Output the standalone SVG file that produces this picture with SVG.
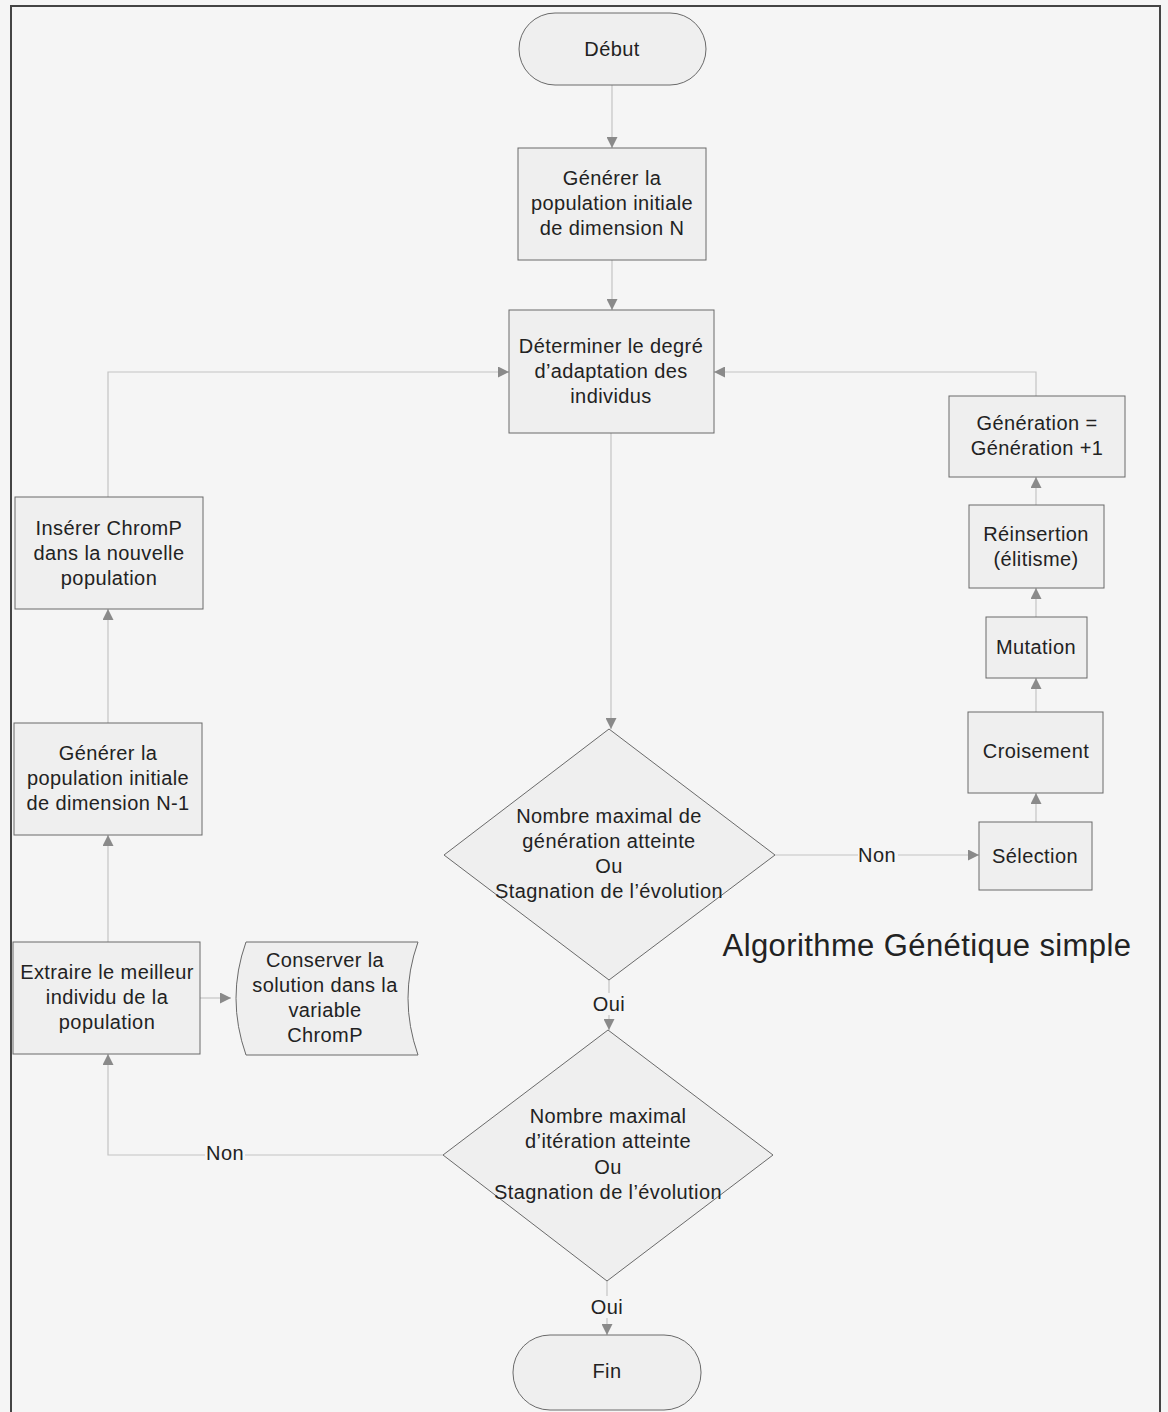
<svg xmlns="http://www.w3.org/2000/svg" width="1168" height="1412" viewBox="0 0 1168 1412">
<defs>
<style>
.n{fill:#efefef;stroke:#6a6a6a;stroke-width:1}
.t{font-family:"Liberation Sans",Arial,sans-serif;font-size:20px;letter-spacing:0.4px;fill:#222;text-anchor:middle}
.c{fill:none;stroke:#c4c4c4;stroke-width:1.2}
.l{font-family:"Liberation Sans",Arial,sans-serif;font-size:20px;letter-spacing:0.4px;fill:#222;text-anchor:middle}
</style>
<marker id="a" viewBox="0 0 10 10" refX="10" refY="5" markerWidth="11" markerHeight="11" markerUnits="userSpaceOnUse" orient="auto">
<path d="M0,0 L10,5 L0,10 Z" fill="#8a8a8a"/>
</marker>
</defs>
<rect x="0" y="0" width="1168" height="1412" fill="#f5f5f5"/>
<path d="M11,1412 V6 H1160 V1412" fill="none" stroke="#444" stroke-width="2"/>

<g id="connectors">
<path class="c" d="M612,85 V148" marker-end="url(#a)"/>
<path class="c" d="M612,260 V310" marker-end="url(#a)"/>
<path class="c" d="M611,433 V729" marker-end="url(#a)"/>
<path class="c" d="M775,855 H979" marker-end="url(#a)"/>
<path class="c" d="M1036,822 V793" marker-end="url(#a)"/>
<path class="c" d="M1036,712 V678" marker-end="url(#a)"/>
<path class="c" d="M1036,617 V588" marker-end="url(#a)"/>
<path class="c" d="M1036,505 V477" marker-end="url(#a)"/>
<path class="c" d="M1036,396 V372 H714" marker-end="url(#a)"/>
<path class="c" d="M609,980 V1030" marker-end="url(#a)"/>
<path class="c" d="M607,1280 V1335" marker-end="url(#a)"/>
<path class="c" d="M443,1155 H108 V1054" marker-end="url(#a)"/>
<path class="c" d="M200,998 H231" marker-end="url(#a)"/>
<path class="c" d="M108,942 V835" marker-end="url(#a)"/>
<path class="c" d="M108,723 V609" marker-end="url(#a)"/>
<path class="c" d="M108,497 V372 H509" marker-end="url(#a)"/>
<rect x="858" y="845" width="40" height="22" fill="#f5f5f5"/>
<text class="l" x="877" y="862">Non</text>
<rect x="590" y="993" width="38" height="22" fill="#f5f5f5"/>
<text class="l" x="609" y="1011">Oui</text>
<rect x="588" y="1296" width="38" height="22" fill="#f5f5f5"/>
<text class="l" x="607" y="1314">Oui</text>
<rect x="205" y="1143" width="40" height="22" fill="#f5f5f5"/>
<text class="l" x="225" y="1160">Non</text>
</g>

<g id="debut">
<rect class="n" x="519" y="13" width="187" height="72" rx="36" ry="36"/>
<text class="t" x="612" y="56">Début</text>
</g>
<g id="generer-n">
<rect class="n" x="518" y="148" width="188" height="112"/>
<text class="t" x="612" y="185">Générer la</text>
<text class="t" x="612" y="210">population initiale</text>
<text class="t" x="612" y="235">de dimension N</text>
</g>
<g id="determiner">
<rect class="n" x="509" y="310" width="205" height="123"/>
<text class="t" x="611" y="353">Déterminer le degré</text>
<text class="t" x="611" y="378">d’adaptation des</text>
<text class="t" x="611" y="403">individus</text>
</g>
<g id="decision-generation">
<polygon class="n" points="609,729 775,855 609,980 444,855"/>
<text class="t" x="609" y="823">Nombre maximal de</text>
<text class="t" x="609" y="848">génération atteinte</text>
<text class="t" x="609" y="873">Ou</text>
<text class="t" x="609" y="898">Stagnation de l’évolution</text>
</g>
<g id="decision-iteration">
<polygon class="n" points="608,1030 773,1155 607,1281 443,1155"/>
<text class="t" x="608" y="1123">Nombre maximal</text>
<text class="t" x="608" y="1148">d’itération atteinte</text>
<text class="t" x="608" y="1174">Ou</text>
<text class="t" x="608" y="1199">Stagnation de l’évolution</text>
</g>
<g id="fin">
<rect class="n" x="513" y="1335" width="188" height="75" rx="37" ry="37"/>
<text class="t" x="607" y="1378">Fin</text>
</g>
<g id="generation-inc">
<rect class="n" x="949" y="396" width="176" height="81"/>
<text class="t" x="1037" y="430">Génération =</text>
<text class="t" x="1037" y="455">Génération +1</text>
</g>
<g id="reinsertion">
<rect class="n" x="969" y="505" width="135" height="83"/>
<text class="t" x="1036" y="541">Réinsertion</text>
<text class="t" x="1036" y="566">(élitisme)</text>
</g>
<g id="mutation">
<rect class="n" x="986" y="617" width="101" height="61"/>
<text class="t" x="1036" y="654">Mutation</text>
</g>
<g id="croisement">
<rect class="n" x="968" y="712" width="135" height="81"/>
<text class="t" x="1036" y="758">Croisement</text>
</g>
<g id="selection">
<rect class="n" x="979" y="822" width="113" height="68"/>
<text class="t" x="1035" y="863">Sélection</text>
</g>
<g id="inserer">
<rect class="n" x="15" y="497" width="188" height="112"/>
<text class="t" x="109" y="535">Insérer ChromP</text>
<text class="t" x="109" y="560">dans la nouvelle</text>
<text class="t" x="109" y="585">population</text>
</g>
<g id="generer-n1">
<rect class="n" x="14" y="723" width="188" height="112"/>
<text class="t" x="108" y="760">Générer la</text>
<text class="t" x="108" y="785">population initiale</text>
<text class="t" x="108" y="810">de dimension N-1</text>
</g>
<g id="extraire">
<rect class="n" x="13" y="942" width="187" height="112"/>
<text class="t" x="107" y="979">Extraire le meilleur</text>
<text class="t" x="107" y="1004">individu de la</text>
<text class="t" x="107" y="1029">population</text>
</g>
<g id="conserver">
<path class="n" d="M246,942 H418 Q398,998 418,1055 H246 Q226,998 246,942 Z"/>
<text class="t" x="325" y="967">Conserver la</text>
<text class="t" x="325" y="992">solution dans la</text>
<text class="t" x="325" y="1017">variable</text>
<text class="t" x="325" y="1042">ChromP</text>
</g>
<text x="927" y="956" font-family="'Liberation Sans',Arial,sans-serif" font-size="31" letter-spacing="0.4" fill="#222" text-anchor="middle">Algorithme Génétique simple</text>
</svg>
